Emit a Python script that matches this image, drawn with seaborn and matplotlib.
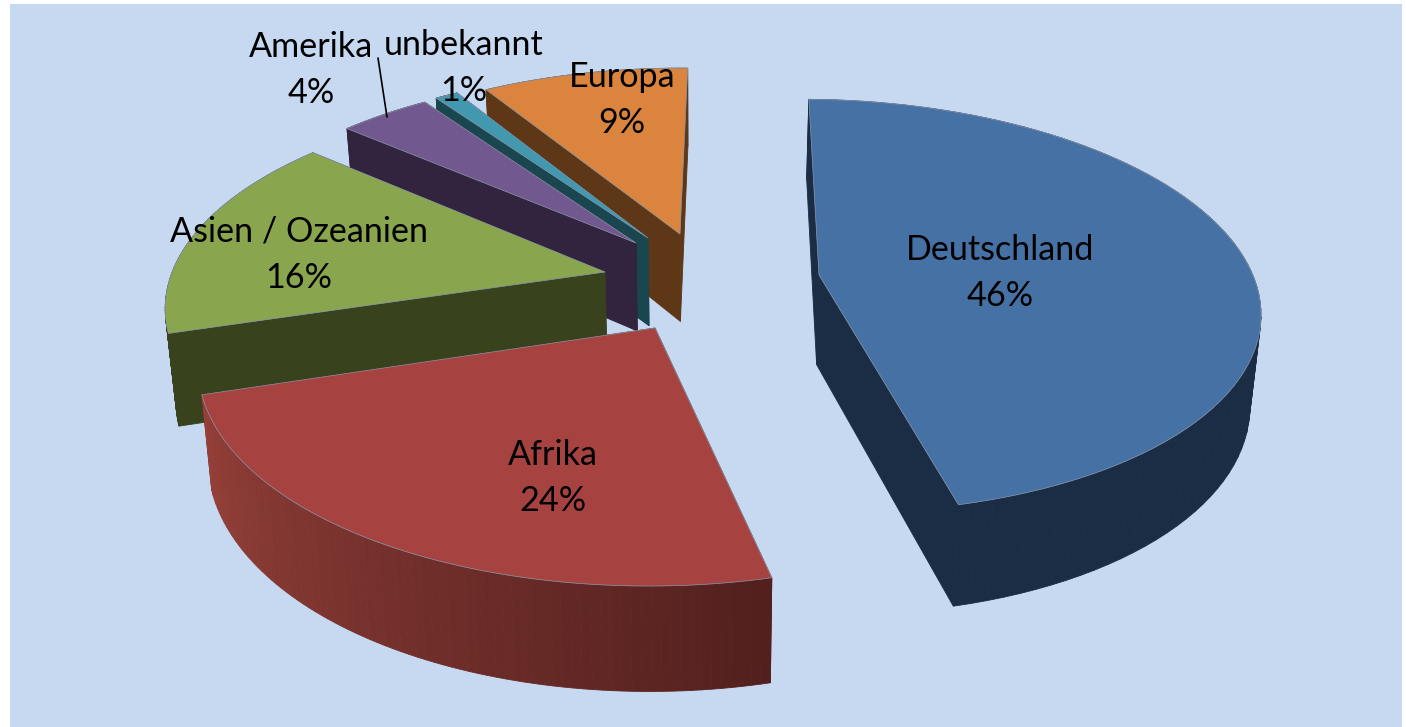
import numpy as np
import seaborn as sns
import matplotlib.pyplot as plt
from matplotlib.patches import Polygon, Rectangle

sns.set_theme(style='white')
plt.rcParams['font.family'] = ['Lato', 'DejaVu Sans']

# data, clockwise from 12 o'clock
regions = ['Deutschland', 'Afrika', 'Asien / Ozeanien', 'Amerika', 'unbekannt', 'Europa']
shares = [46, 24, 16, 4, 1, 9]

# colours
top_colors = ['#4671A5', '#A64340', '#89A54E', '#71588F', '#4198AF', '#DB843D']
side_dark = ['#1B2D45', '#52201E', '#38431D', '#32233F', '#1A4650', '#5E3716']
side_light = ['#1B2D45', '#964039', '#38431D', '#32233F', '#1A4650', '#5E3716']

# where each exploded slice's tip lands on screen, and where its label sits
tips = [(819, 275), (655, 328), (605, 272), (636, 243), (648, 238), (680, 234)]
label_pos = [(1000, 273), (553, 478), (299, 255), (311, 70), (464, 68), (622, 100)]
draw_order = [5, 4, 3, 2, 0, 1]

# perspective of the pie plane
CX, CY = 690, 282
F, G, K = 436, 204, 0.15
DEPTH, DEPTH_K = 90, 0.12
VANISH_X = 700
START_DEG = 1.0


def project(x, y):
    w = 1 + K * y
    return CX + F * x / w, CY - G * y / w


def unproject(sx, sy):
    d = sy - CY
    y = -d / (G + K * d)
    return (sx - CX) * (1 + K * y) / F, y


def drop(pts, y_plane):
    # same outline pushed down to the bottom of the pie
    pts = np.asarray(pts, dtype=float)
    out = pts.copy()
    out[:, 0] = VANISH_X + (pts[:, 0] - VANISH_X) * 0.98
    out[:, 1] = pts[:, 1] + DEPTH / (1 + DEPTH_K * y_plane)
    return out


fig, ax = plt.subplots(figsize=(14.06, 7.27), dpi=100)
fig.subplots_adjust(0, 0, 1, 1)
ax.set_xlim(0, 1406)
ax.set_ylim(727, 0)
ax.axis('off')
ax.add_patch(Rectangle((10, 4), 1392, 723, color='#C6D9F1', lw=0, zorder=0))

edges = np.cumsum([0] + shares) / sum(shares) * 2 * np.pi + np.radians(START_DEG)

for i in draw_order:
    ox, oy = unproject(*tips[i])
    theta = np.linspace(edges[i], edges[i + 1], 80)
    px = ox + np.sin(theta)
    py = oy + np.cos(theta)
    sx, sy = project(px, py)
    rim = np.column_stack([sx, sy])
    rim_low = drop(rim, py)
    tip = np.array([tips[i]], dtype=float)
    tip_low = drop(tip, np.array([oy]))

    # radial cut faces
    for k in (0, -1):
        quad = np.vstack([tip, rim[[k]], rim_low[[k]], tip_low])
        ax.add_patch(Polygon(quad, fc=side_dark[i], ec=side_dark[i], lw=0.6))

    # outer wall, shaded along the arc
    ramp = sns.blend_palette([side_dark[i], side_light[i]], n_colors=len(theta) - 1)
    for j in range(len(theta) - 1):
        quad = np.vstack([rim[j], rim[j + 1], rim_low[j + 1], rim_low[j]])
        ax.add_patch(Polygon(quad, fc=ramp[j], ec=ramp[j], lw=0.6))

    # top face
    face = np.vstack([tip, rim])
    ax.add_patch(Polygon(face, fc=top_colors[i], ec='#8A97AB', lw=0.5, joinstyle='round'))

for name, share, (lx, ly) in zip(regions, shares, label_pos):
    ax.text(lx, ly, f'{name}\n{share}%', ha='center', va='center', fontsize=24.6,
            color='black', linespacing=1.55, zorder=20)

# leader line for Amerika
ax.plot([378, 387], [58, 117], color='black', lw=1.2, zorder=19)

fig.savefig('out.png', dpi=100, facecolor='white')
plt.close(fig)
